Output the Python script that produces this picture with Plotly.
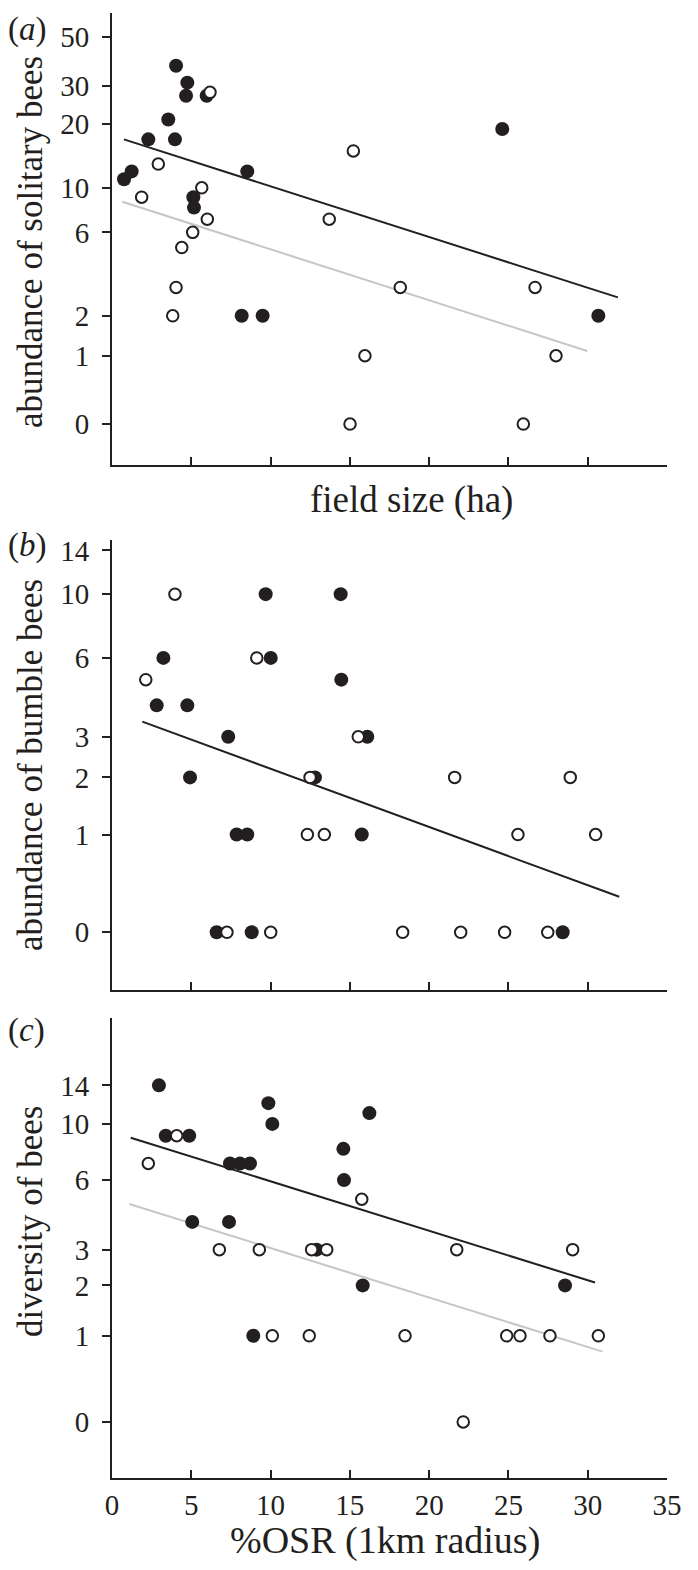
import numpy as np
import plotly.graph_objects as go

# ---------------- data (counts; plotted on log(count+1) scale) ----------------
# panel (a): abundance of solitary bees vs field size
a_filled_x = [4.04, 4.75, 4.67, 5.97, 3.55, 2.29, 3.97, 0.76, 1.24, 5.13, 5.17, 8.53, 8.18, 9.50, 24.61, 30.67]
a_filled_y = [37, 31, 27, 27, 21, 17, 17, 11, 12, 9, 8, 12, 2, 2, 19, 2]
a_open_x = [6.18, 2.92, 1.87, 5.66, 6.01, 5.09, 4.40, 4.04, 3.83, 13.70, 15.22, 15.95, 15.01, 18.18, 26.68, 28.00, 25.94]
a_open_y = [28, 13, 9, 10, 7, 6, 5, 3, 2, 7, 15, 1, 0, 3, 3, 1, 0]

# panel (b): abundance of bumble bees
b_filled_x = [9.69, 14.42, 3.24, 10.01, 14.46, 2.82, 4.75, 7.33, 16.10, 4.92, 12.80, 7.86, 8.53, 15.75, 6.60, 8.81, 28.42]
b_filled_y = [10, 10, 6, 6, 5, 4, 4, 3, 3, 2, 2, 1, 1, 1, 0, 0, 0]
b_open_x = [3.97, 2.13, 9.13, 15.53, 12.49, 12.32, 13.39, 7.25, 10.01, 21.61, 28.90, 25.60, 30.50, 18.33, 21.99, 24.76, 27.48]
b_open_y = [10, 5, 6, 3, 2, 1, 1, 0, 0, 2, 2, 1, 1, 0, 0, 0, 0]

# panel (c): diversity of bees
c_filled_x = [2.96, 3.39, 4.87, 7.44, 8.07, 8.70, 9.86, 10.11, 14.59, 14.63, 16.23, 5.06, 7.38, 15.81, 8.91, 28.57, 12.90]
c_filled_y = [14, 9, 9, 7, 7, 7, 12, 10, 8, 6, 11, 4, 4, 2, 1, 2, 3]
c_open_x = [2.29, 4.08, 6.77, 9.29, 12.59, 13.54, 15.75, 10.11, 12.44, 21.74, 29.05, 18.48, 24.89, 25.73, 27.62, 30.67, 22.15]
c_open_y = [7, 9, 3, 3, 3, 3, 5, 1, 1, 3, 3, 1, 1, 1, 1, 1, 0]

# fitted lines: (intercept, slope) on log(count+1) scale, x extent
fit_a_filled = (2.929, -0.0515, 0.75, 31.9)
fit_a_open = (2.291, -0.0517, 0.65, 29.97)
fit_b_filled = (1.573, -0.0413, 1.91, 31.99)
fit_c_filled = (2.334, -0.0398, 1.18, 30.46)
fit_c_open = (1.797, -0.0398, 1.09, 30.94)

# tick labels
a_ticks = [0, 1, 2, 6, 10, 20, 30, 50]
bc_ticks = [0, 1, 2, 3, 6, 10, 14]
x_ticks = [0, 5, 10, 15, 20, 25, 30, 35]

# ------------------------------------------------------------------------------
INK = "#231f20"
GREY = "#c6c6c6"
FONT = "Liberation Serif"

def tr(v):
    return np.log(np.asarray(v, dtype=float) + 1.0)

fig = go.Figure()

def add_panel(k, fx, fy, ox, oy, fits):
    xa = "x" if k == 1 else f"x{k}"
    ya = "y" if k == 1 else f"y{k}"
    for (b0, b1, x0, x1), col in fits:
        xs = np.array([x0, x1])
        fig.add_trace(go.Scatter(x=xs, y=b0 + b1 * xs, mode="lines",
                                 line=dict(color=col, width=2), xaxis=xa, yaxis=ya,
                                 showlegend=False, hoverinfo="skip"))
    fig.add_trace(go.Scatter(x=fx, y=tr(fy), mode="markers",
                             marker=dict(size=14, color=INK, line=dict(width=0)),
                             xaxis=xa, yaxis=ya, showlegend=False))
    fig.add_trace(go.Scatter(x=ox, y=tr(oy), mode="markers",
                             marker=dict(size=11.5, color="white", line=dict(width=2, color=INK)),
                             xaxis=xa, yaxis=ya, showlegend=False))

add_panel(1, a_filled_x, a_filled_y, a_open_x, a_open_y,
          [(fit_a_open, GREY), (fit_a_filled, INK)])
add_panel(2, b_filled_x, b_filled_y, b_open_x, b_open_y,
          [(fit_b_filled, INK)])
add_panel(3, c_filled_x, c_filled_y, c_open_x, c_open_y,
          [(fit_c_open, GREY), (fit_c_filled, INK)])

# page body has an 8px margin: figure is drawn 8px right/down
W, H = 690, 1562
L, R, T, B = 104, 31, 5, 92
PH = H - T - B

def dom(top_px, bot_px):
    return [(1478 - bot_px) / PH, (1478 - top_px) / PH]

def py(p):
    return (1478 - p) / PH

def px(p):
    return (p - 112) / 555

xcommon = dict(range=[0, 35], tickvals=x_ticks, ticks="inside", ticklen=8, tickwidth=1.5,
               tickcolor=INK, showline=True, linecolor=INK, linewidth=2, showgrid=False,
               zeroline=False, tickfont=dict(family=FONT, size=29, color=INK))
ycommon = dict(ticks="outside", ticklen=8, tickwidth=1.5, tickcolor=INK, showline=True,
               linecolor=INK, linewidth=2, showgrid=False, zeroline=False,
               tickfont=dict(family=FONT, size=29, color=INK), ticklabelstandoff=7)

fig.update_layout(
    width=W, height=H,
    margin=dict(l=L, r=R, t=T, b=B, autoexpand=False),
    plot_bgcolor="white", paper_bgcolor="white",
    font=dict(family=FONT, color=INK),
    xaxis=dict(xcommon, anchor="y", showticklabels=False),
    xaxis2=dict(xcommon, anchor="y2", showticklabels=False),
    xaxis3=dict(xcommon, anchor="y3", showticklabels=True),
    yaxis=dict(ycommon, domain=dom(13, 465), range=[-0.416, 4.173], anchor="x",
               tickvals=tr(a_ticks), ticktext=[str(t) for t in a_ticks]),
    yaxis2=dict(ycommon, domain=dom(540, 990), range=[-0.409, 2.782], anchor="x2",
                tickvals=tr(bc_ticks), ticktext=[str(t) for t in bc_ticks]),
    yaxis3=dict(ycommon, domain=dom(1018, 1478), range=[-0.451, 3.250], anchor="x3",
                tickvals=tr(bc_ticks), ticktext=[str(t) for t in bc_ticks]),
)

YT = dict(family=FONT, size=35, color=INK)
ann = [
    dict(text="abundance of solitary bees", x=px(30), y=py(242), textangle=-90, font=YT),
    dict(text="abundance of bumble bees", x=px(30), y=py(765), textangle=-90, font=YT),
    dict(text="diversity of bees", x=px(30), y=py(1222), textangle=-90, font=YT),
    dict(text="field size (ha)", x=px(411), y=py(500), textangle=0,
         font=dict(family=FONT, size=37, color=INK)),
    dict(text="%OSR (1km radius)", x=px(385), y=py(1540), textangle=0,
         font=dict(family=FONT, size=38, color=INK)),
]
for a in ann:
    fig.add_annotation(xref="paper", yref="paper", showarrow=False,
                       xanchor="center", yanchor="middle", **a)
for lab, ypix in [("a", 30), ("b", 545), ("c", 1030)]:
    fig.add_annotation(text=f"(<i>{lab}</i>)", xref="paper", yref="paper",
                       x=px(6), y=py(ypix), xanchor="left", yanchor="middle",
                       showarrow=False, font=dict(family=FONT, size=33, color=INK))

fig.write_html("out.html")
